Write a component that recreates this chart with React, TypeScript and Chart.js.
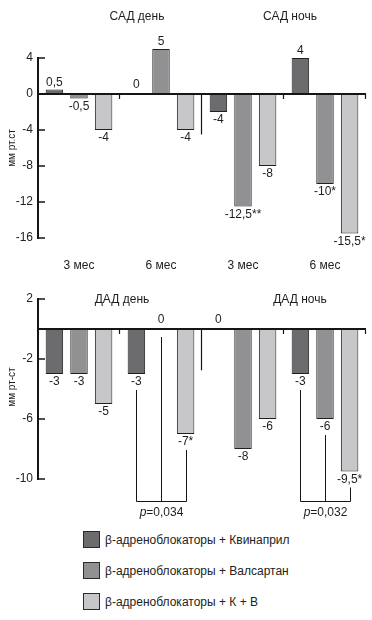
import React, { useEffect, useRef } from "react";
import { Chart, registerables } from "chart.js";

Chart.register(...registerables);

const FONT = "'Liberation Sans', Arial, Helvetica, sans-serif";

const categories = ["3 мес", "6 мес", "3 мес", "6 мес"];
const seriesNames = [
  "β-адреноблокаторы + Квинаприл",
  "β-адреноблокаторы + Валсартан",
  "β-адреноблокаторы + К + В",
];
const seriesColors = ["#6c6c6f", "#919194", "#c7c7c9"];

// САД (systolic)
const sadQuinapril = [0.5, 0, -2, 4];
const sadValsartan = [-0.5, 5, -12.5, -10];
const sadKB = [-4, -4, -8, -15.5];
const sadLabels = [
  ["0,5", "0", "-4", "4"],
  ["-0,5", "5", "-12,5**", "-10*"],
  ["-4", "-4", "-8", "-15,5*"],
];
const sadTicks = [4, 0, -4, -8, -12, -16];
const sadTitles = ["САД день", "САД ночь"];

// ДАД (diastolic)
const dadQuinapril = [-3, -3, 0, -3];
const dadValsartan = [-3, 0, -8, -6];
const dadKB = [-5, -7, -6, -9.5];
const dadLabels = [
  ["-3", "-3", "0", "-3"],
  ["-3", "0", "-8", "-6"],
  ["-5", "-7*", "-6", "-9,5*"],
];
const dadTicks = [2, -2, -6, -10];
const dadTitles = ["ДАД день", "ДАД ночь"];

const pCategories = [1, 3];
const pValues = ["0,034", "0,032"];
const bracketLevel = -11.45;

type Overlay = {
  labels: string[][];
  titles: string[];
  titleX: number[];
  titleY: number;
  yTitle: string;
  yTitleY: number;
  sepEnd: number;
  brackets: boolean;
};

function makeOverlay(o: Overlay) {
  return {
    id: "overlay",
    afterDraw(chart: any) {
      const ctx = chart.ctx as CanvasRenderingContext2D;
      const ys = chart.scales.y;
      const xs = chart.scales.x;
      const area = chart.chartArea;
      const y0 = ys.getPixelForValue(0);
      ctx.save();
      ctx.strokeStyle = "#151515";
      ctx.fillStyle = "#1e1e1e";

      // zero line
      ctx.lineWidth = 2;
      ctx.beginPath();
      ctx.moveTo(area.left, y0);
      ctx.lineTo(area.right, y0);
      ctx.stroke();

      // inward y ticks
      ctx.lineWidth = 1.5;
      ys.ticks.forEach((t: any) => {
        const y = ys.getPixelForValue(t.value);
        ctx.beginPath();
        ctx.moveTo(area.left, y);
        ctx.lineTo(area.left + 7, y);
        ctx.stroke();
      });

      // category boundaries
      const n = categories.length;
      const bx = (i: number) =>
        i >= n ? area.right : (xs.getPixelForValue(i - 1) + xs.getPixelForValue(i)) / 2;
      ctx.lineWidth = 1.2;
      [1, 3, 4].forEach((i) => {
        const x = Math.round(bx(i)) - 0.5;
        ctx.beginPath();
        ctx.moveTo(x, y0);
        ctx.lineTo(x, y0 + 5);
        ctx.stroke();
      });
      {
        const x = Math.round(bx(2)) - 0.5;
        ctx.beginPath();
        ctx.moveTo(x, y0);
        ctx.lineTo(x, ys.getPixelForValue(o.sepEnd));
        ctx.stroke();
      }

      // value labels
      ctx.font = `12px ${FONT}`;
      ctx.textAlign = "center";
      chart.data.datasets.forEach((ds: any, di: number) => {
        const meta = chart.getDatasetMeta(di);
        meta.data.forEach((el: any, j: number) => {
          const v = ds.data[j];
          const txt = o.labels[di][j];
          if (v > 0) {
            ctx.textBaseline = "bottom";
            ctx.fillText(txt, el.x, el.y - 1);
          } else if (v === 0) {
            ctx.textBaseline = "bottom";
            ctx.fillText(txt, el.x, y0 - 3);
          } else {
            ctx.textBaseline = "top";
            ctx.fillText(txt, el.x, el.y + 2);
          }
        });
      });

      // titles
      ctx.font = `12px ${FONT}`;
      ctx.textBaseline = "middle";
      o.titles.forEach((t, i) => ctx.fillText(t, o.titleX[i], o.titleY));

      // y title
      ctx.save();
      ctx.font = `10px ${FONT}`;
      ctx.translate(12, o.yTitleY);
      ctx.rotate(-Math.PI / 2);
      ctx.textAlign = "center";
      ctx.textBaseline = "middle";
      ctx.fillText(o.yTitle, 0, 0);
      ctx.restore();

      // significance brackets
      if (o.brackets) {
        const yb = Math.round(ys.getPixelForValue(bracketLevel)) + 0.5;
        ctx.lineWidth = 1;
        pCategories.forEach((c, bi) => {
          const xsPts: number[] = [];
          chart.data.datasets.forEach((ds: any, di: number) => {
            const el = chart.getDatasetMeta(di).data[c];
            const v = ds.data[c];
            const x = Math.round(el.x) + 0.5;
            xsPts.push(x);
            const start = v < 0 ? el.y + 16 : y0 + 8;
            ctx.beginPath();
            ctx.moveTo(x, start);
            ctx.lineTo(x, yb);
            ctx.stroke();
          });
          ctx.beginPath();
          ctx.moveTo(xsPts[0], yb);
          ctx.lineTo(xsPts[2], yb);
          ctx.stroke();
          const mid = xsPts[1];
          ctx.textBaseline = "middle";
          ctx.textAlign = "left";
          ctx.font = `italic 12px ${FONT}`;
          const wp = ctx.measureText("p").width;
          ctx.font = `12px ${FONT}`;
          const rest = "=" + pValues[bi];
          const wr = ctx.measureText(rest).width;
          const sx = mid - (wp + wr) / 2;
          ctx.font = `italic 12px ${FONT}`;
          ctx.fillText("p", sx, yb + 11);
          ctx.font = `12px ${FONT}`;
          ctx.fillText(rest, sx + wp, yb + 11);
          ctx.textAlign = "center";
        });
      }
      ctx.restore();
    },
  };
}

function makeConfig(
  data: number[][],
  ticks: number[],
  min: number,
  max: number,
  padTop: number,
  xHeight: number,
  showX: boolean,
  overlay: Overlay
): any {
  return {
    type: "bar",
    data: {
      labels: categories,
      datasets: data.map((d, i) => ({
        label: seriesNames[i],
        data: d,
        backgroundColor: seriesColors[i],
        borderColor: "#202020",
        borderWidth: 1,
        borderSkipped: false,
        categoryPercentage: 0.9,
        barPercentage: 0.71,
        clip: false,
      })),
    },
    options: {
      responsive: false,
      animation: false,
      devicePixelRatio: 1,
      layout: { padding: { top: padTop, right: 6, left: 0, bottom: 0 } },
      plugins: { legend: { display: false }, tooltip: { enabled: false } },
      scales: {
        x: {
          type: "category",
          grid: { display: false, drawTicks: false },
          border: { display: false },
          ticks: {
            display: showX,
            padding: 20,
            color: "#222",
            font: { size: 12, family: FONT },
          },
          afterFit: (s: any) => {
            s.height = xHeight;
          },
        },
        y: {
          min,
          max,
          grid: { display: false, drawTicks: false },
          border: { display: true, color: "#151515", width: 2 },
          afterBuildTicks: (s: any) => {
            s.ticks = ticks.map((v) => ({ value: v }));
          },
          afterFit: (s: any) => {
            s.width = 38;
          },
          ticks: {
            padding: 5,
            color: "#222",
            font: { size: 12, family: FONT },
            callback: (v: any) => String(v),
          },
        },
      },
    },
    plugins: [makeOverlay(overlay)],
  };
}

export default function App() {
  const topRef = useRef<HTMLCanvasElement | null>(null);
  const botRef = useRef<HTMLCanvasElement | null>(null);

  useEffect(() => {
    Chart.defaults.font.family = FONT;
    const top = new Chart(
      topRef.current as HTMLCanvasElement,
      makeConfig([sadQuinapril, sadValsartan, sadKB], sadTicks, -16, 4, 58, 47, true, {
        labels: sadLabels,
        titles: sadTitles,
        titleX: [137, 290],
        titleY: 17,
        yTitle: "мм рт.ст",
        yTitleY: 148,
        sepEnd: -4.5,
        brackets: false,
      })
    );
    const bot = new Chart(
      botRef.current as HTMLCanvasElement,
      makeConfig([dadQuinapril, dadValsartan, dadKB], dadTicks, -10, 2, 14, 41, false, {
        labels: dadLabels,
        titles: dadTitles,
        titleX: [122, 300],
        titleY: 15,
        yTitle: "мм рт-ст",
        yTitleY: 102,
        sepEnd: -2.75,
        brackets: true,
      })
    );
    return () => {
      top.destroy();
      bot.destroy();
    };
  }, []);

  return (
    <div
      style={{
        position: "absolute",
        left: 0,
        top: 0,
        width: 372,
        height: 620,
        background: "#fff",
        fontFamily: FONT,
      }}
    >
      <canvas
        ref={topRef}
        width={372}
        height={285}
        style={{ position: "absolute", left: 0, top: 0, width: 372, height: 285 }}
      />
      <canvas
        ref={botRef}
        width={372}
        height={235}
        style={{ position: "absolute", left: 0, top: 285, width: 372, height: 235 }}
      />
      {seriesNames.map((name, i) => (
        <div
          key={name}
          style={{
            position: "absolute",
            left: 83,
            top: 531 + i * 31,
            height: 17,
            display: "flex",
            alignItems: "center",
          }}
        >
          <div
            style={{
              width: 17,
              height: 17,
              boxSizing: "border-box",
              border: "1px solid #2a2a2a",
              background: seriesColors[i],
              marginRight: 5,
            }}
          />
          <span style={{ fontSize: 12, color: "#222", whiteSpace: "nowrap" }}>{name}</span>
        </div>
      ))}
    </div>
  );
}
